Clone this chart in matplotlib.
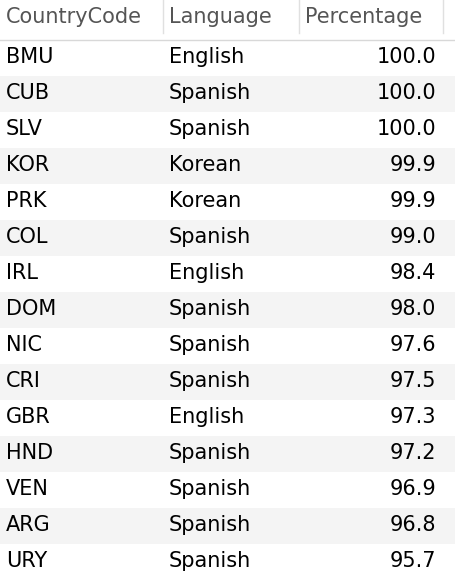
import matplotlib
matplotlib.use("Agg")
import matplotlib.pyplot as plt
from matplotlib.patches import Rectangle

headers = ["CountryCode", "Language", "Percentage"]
codes = ["BMU","CUB","SLV","KOR","PRK","COL","IRL","DOM","NIC","CRI","GBR","HND","VEN","ARG","URY"]
languages = ["English","Spanish","Spanish","Korean","Korean","Spanish","English","Spanish",
             "Spanish","Spanish","English","Spanish","Spanish","Spanish","Spanish"]
percentages = [100.0,100.0,100.0,99.9,99.9,99.0,98.4,98.0,97.6,97.5,97.3,97.2,96.9,96.8,95.7]

W, H = 456, 576
fig = plt.figure(figsize=(W/100, H/100), dpi=100)
ax = fig.add_axes([0, 0, 1, 1])
ax.set_xlim(0, W); ax.set_ylim(H, 0); ax.axis("off")
fs = 15
fam = ["DejaVu Sans"]

ax.text(6, 17, headers[0], fontsize=fs, color="#555555", va="center", family=fam)
ax.text(169, 17, headers[1], fontsize=fs, color="#555555", va="center", family=fam)
ax.text(305, 17, headers[2], fontsize=fs, color="#555555", va="center", family=fam)
for x in [163, 299, 443]:
    ax.plot([x, x], [0, 33], color="#e0e0e0", lw=1)
ax.plot([0, W], [39.5, 39.5], color="#d8d8d8", lw=1)

top, rh = 40, 36
for i, (c, l, p) in enumerate(zip(codes, languages, percentages)):
    y0 = top + i*rh
    if i % 2 == 1:
        ax.add_patch(Rectangle((0, y0), W, rh, color="#f4f4f4", lw=0))
    yc = y0 + rh/2 - 1
    ax.text(6, yc, c, fontsize=fs, color="black", va="center", family=fam)
    ax.text(169, yc, l, fontsize=fs, color="black", va="center", family=fam)
    ax.text(436, yc, f"{p:.1f}", fontsize=fs, color="black", va="center", ha="right", family=fam)

fig.savefig("out.png", dpi=100)
